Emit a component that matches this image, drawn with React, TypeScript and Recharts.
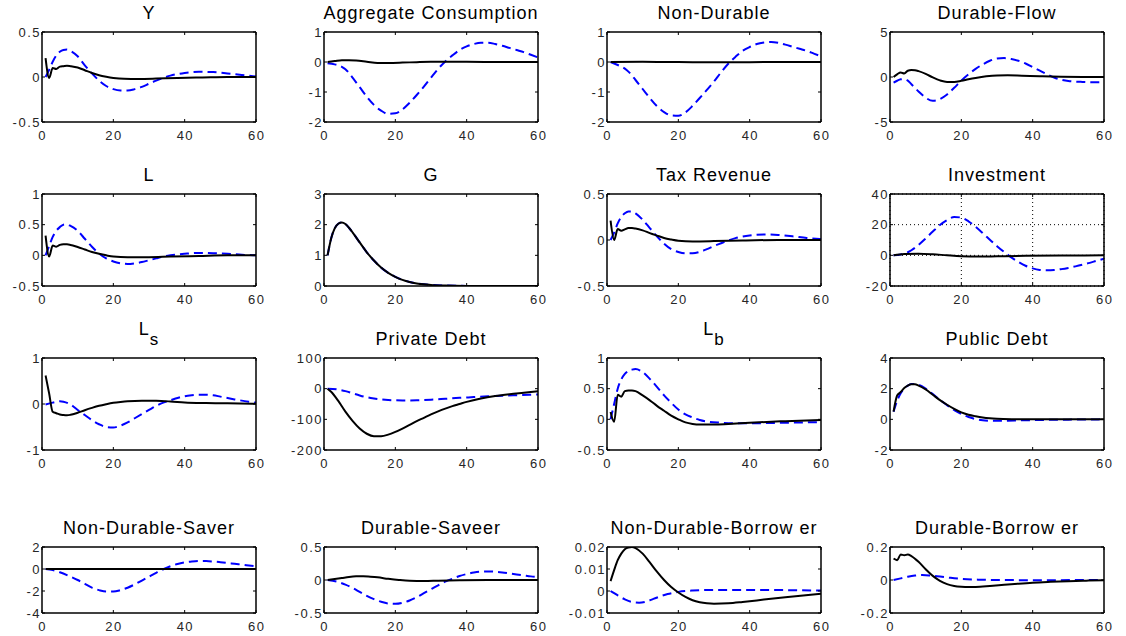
import React from "react";
import { LineChart, Line, XAxis, YAxis, CartesianGrid } from "recharts";

type Pt = [number, number];

const X_TICKS = [0, 20, 40, 60];

// Y
const Y_SOLID: Pt[] = [[1,0.21],[2,-0.01],[3,0.1],[4,0.09],[5,0.115],[6,0.12],[7,0.125],[8,0.12],[10,0.105],[12,0.075],[14,0.045],[16,0.02],[18,0.003],[20,-0.01],[23,-0.02],[27,-0.022],[32,-0.018],[38,-0.01],[45,-0.005],[52,0],[60,0]];
const Y_DASHED: Pt[] = [[1,0],[2,0.08],[3,0.17],[4,0.24],[5,0.28],[6,0.3],[7,0.305],[8,0.29],[10,0.23],[12,0.13],[14,0.04],[16,-0.04],[18,-0.1],[20,-0.135],[22,-0.15],[24,-0.15],[26,-0.135],[28,-0.11],[30,-0.075],[32,-0.04],[34,-0.01],[36,0.015],[40,0.045],[44,0.058],[48,0.055],[52,0.04],[56,0.022],[60,0.005]];

// Aggregate Consumption
const AC_SOLID: Pt[] = [[1,0],[3,0.03],[5,0.06],[7,0.06],[9,0.05],[12,0.01],[15,-0.03],[18,-0.03],[22,-0.02],[26,-0.005],[30,0.005],[40,0.005],[50,0],[60,0]];
const AC_DASHED: Pt[] = [[1,-0.04],[3,-0.08],[5,-0.16],[6,-0.24],[8,-0.52],[10,-0.84],[12,-1.16],[14,-1.43],[16,-1.62],[18,-1.73],[20,-1.71],[22,-1.58],[24,-1.36],[26,-1.1],[28,-0.82],[30,-0.52],[32,-0.23],[34,0.02],[36,0.22],[38,0.4],[40,0.52],[42,0.6],[44,0.64],[46,0.64],[48,0.6],[50,0.54],[52,0.47],[54,0.4],[56,0.33],[58,0.24],[60,0.15]];

// Non-Durable
const ND_SOLID: Pt[] = [[1,0],[10,0.005],[20,0],[30,-0.01],[40,-0.005],[50,0],[60,0]];
const ND_DASHED: Pt[] = [[1,0],[3,-0.1],[5,-0.22],[6,-0.32],[8,-0.6],[10,-0.9],[12,-1.2],[14,-1.47],[16,-1.67],[18,-1.78],[20,-1.79],[22,-1.68],[24,-1.46],[26,-1.2],[28,-0.93],[30,-0.65],[32,-0.34],[34,-0.06],[36,0.17],[38,0.37],[40,0.5],[42,0.6],[44,0.65],[46,0.67],[48,0.64],[50,0.58],[52,0.51],[54,0.44],[56,0.37],[58,0.28],[60,0.19]];

// Durable-Flow
const DF_SOLID: Pt[] = [[1,0],[2,0.3],[3,0.5],[4,0.4],[5,0.7],[6,0.78],[7,0.75],[8,0.65],[10,0.35],[12,-0.05],[14,-0.38],[16,-0.55],[18,-0.55],[20,-0.42],[22,-0.25],[24,-0.1],[27,0.08],[30,0.18],[33,0.2],[37,0.15],[42,0.08],[48,0.02],[54,0],[60,0]];
const DF_DASHED: Pt[] = [[1,-0.63],[2,-0.42],[3,-0.26],[4,-0.22],[5,-0.4],[6,-0.8],[8,-1.6],[10,-2.3],[12,-2.65],[14,-2.45],[16,-1.95],[18,-1.2],[20,-0.4],[22,0.3],[24,0.9],[26,1.4],[28,1.8],[30,2.05],[32,2.1],[34,2.0],[36,1.8],[38,1.5],[40,1.1],[42,0.7],[44,0.3],[46,-0.05],[48,-0.3],[50,-0.45],[54,-0.55],[58,-0.58],[60,-0.55]];

// L
const L_SOLID: Pt[] = [[1,0.32],[2,-0.02],[3,0.16],[4,0.14],[5,0.17],[6,0.18],[7,0.18],[8,0.17],[10,0.135],[12,0.095],[14,0.055],[16,0.025],[18,0.0],[20,-0.02],[24,-0.03],[30,-0.03],[36,-0.02],[44,-0.01],[52,0],[60,0]];
const L_DASHED: Pt[] = [[1,0],[2,0.15],[3,0.3],[4,0.4],[5,0.46],[6,0.5],[7,0.505],[8,0.48],[10,0.4],[12,0.27],[14,0.14],[16,0.03],[18,-0.05],[20,-0.1],[22,-0.13],[24,-0.14],[26,-0.13],[28,-0.11],[30,-0.08],[32,-0.05],[34,-0.02],[36,0.0],[40,0.025],[44,0.04],[48,0.035],[52,0.025],[56,0.01],[60,0]];

// G
const G_SOLID: Pt[] = [[1,1],[2,1.55],[3,1.88],[4,2.03],[5,2.07],[6,2.02],[7,1.9],[8,1.75],[10,1.42],[12,1.1],[14,0.83],[16,0.6],[18,0.43],[20,0.3],[22,0.2],[24,0.13],[26,0.085],[28,0.055],[30,0.035],[34,0.015],[40,0.004],[50,0],[60,0]];
const G_DASHED: Pt[] = [[1,1],[2,1.55],[3,1.88],[4,2.03],[5,2.07],[6,2.02],[7,1.9],[8,1.75],[10,1.42],[12,1.1],[14,0.83],[16,0.6],[18,0.43],[20,0.3],[22,0.2],[24,0.13],[26,0.085],[28,0.055],[30,0.035],[34,0.015],[40,0.004],[50,0],[60,0]];

// Tax Revenue
const TR_SOLID: Pt[] = [[1,0.21],[2,0],[3,0.12],[4,0.1],[5,0.115],[6,0.13],[7,0.13],[8,0.125],[10,0.105],[12,0.075],[14,0.048],[16,0.022],[18,0.005],[20,-0.008],[24,-0.015],[30,-0.012],[38,-0.005],[48,0],[60,0]];
const TR_DASHED: Pt[] = [[1,0],[2,0.08],[3,0.18],[4,0.25],[5,0.29],[6,0.31],[7,0.31],[8,0.29],[10,0.22],[12,0.13],[14,0.04],[16,-0.04],[18,-0.1],[20,-0.13],[22,-0.145],[24,-0.145],[26,-0.13],[28,-0.1],[30,-0.065],[32,-0.035],[34,-0.005],[36,0.02],[40,0.05],[44,0.06],[48,0.055],[52,0.04],[56,0.022],[60,0.01]];

// Investment
const INV_SOLID: Pt[] = [[1,0],[4,0.8],[8,1.1],[12,0.7],[16,0],[20,-0.6],[25,-0.8],[30,-0.6],[38,-0.3],[48,-0.1],[60,0]];
const INV_DASHED: Pt[] = [[1,0],[3,0.6],[5,2],[6,3.3],[8,6.8],[10,11],[12,15.5],[14,19.8],[16,23],[18,25],[20,24.6],[22,22.2],[24,18.6],[26,14.5],[28,10.2],[30,6],[32,2.2],[34,-1.3],[36,-4.3],[38,-6.8],[40,-8.5],[42,-9.5],[44,-9.8],[46,-9.6],[48,-9],[50,-8.2],[52,-7.2],[54,-6.1],[56,-4.9],[58,-3.5],[60,-2.2]];

// L_s
const LS_SOLID: Pt[] = [[1,0.62],[2,0.23],[3,-0.17],[4,-0.2],[5,-0.23],[6,-0.24],[7,-0.245],[8,-0.235],[10,-0.19],[12,-0.135],[14,-0.085],[16,-0.04],[18,-0.005],[20,0.025],[22,0.045],[24,0.06],[28,0.07],[32,0.068],[36,0.055],[40,0.035],[46,0.022],[52,0.015],[60,0.005]];
const LS_DASHED: Pt[] = [[1,-0.01],[3,0.03],[5,0.06],[6,0.05],[8,-0.01],[10,-0.13],[12,-0.24],[14,-0.35],[16,-0.44],[18,-0.5],[20,-0.51],[22,-0.47],[24,-0.4],[26,-0.31],[28,-0.22],[30,-0.13],[32,-0.04],[34,0.03],[36,0.08],[38,0.13],[40,0.17],[42,0.19],[44,0.2],[46,0.2],[48,0.19],[50,0.16],[54,0.1],[58,0.05],[60,0.03]];

// Private Debt
const PD_SOLID: Pt[] = [[1,0],[2,-10],[4,-40],[6,-75],[8,-105],[10,-130],[12,-147],[14,-155],[16,-155],[18,-150],[20,-141],[22,-130],[24,-118],[26,-106],[28,-95],[30,-84],[32,-74],[34,-65],[36,-57],[38,-50],[40,-43],[44,-32],[48,-24],[52,-18],[56,-13],[60,-8]];
const PD_DASHED: Pt[] = [[1,0],[4,-3],[6,-8],[8,-15],[10,-22],[12,-28],[14,-32],[16,-35],[18,-37],[20,-38],[22,-38.5],[26,-38],[30,-36],[34,-33],[38,-30],[42,-27.5],[46,-25],[50,-23],[55,-21],[60,-19]];

// L_b
const LB_SOLID: Pt[] = [[1,0.12],[2,-0.04],[3,0.4],[4,0.37],[5,0.46],[6,0.47],[7,0.47],[8,0.46],[10,0.39],[12,0.31],[14,0.22],[16,0.14],[18,0.06],[20,0.0],[22,-0.05],[24,-0.075],[26,-0.085],[30,-0.085],[34,-0.075],[40,-0.055],[50,-0.03],[60,-0.01]];
const LB_DASHED: Pt[] = [[1,0],[2,0.25],[3,0.5],[4,0.65],[5,0.74],[6,0.79],[7,0.81],[8,0.82],[10,0.77],[12,0.66],[14,0.53],[16,0.39],[18,0.27],[20,0.16],[22,0.08],[24,0.03],[26,-0.01],[28,-0.035],[32,-0.055],[36,-0.065],[40,-0.065],[50,-0.055],[60,-0.045]];

// Public Debt
const PUB_SOLID: Pt[] = [[1,0.5],[2,1.55],[3,1.78],[4,2.05],[5,2.2],[6,2.28],[7,2.28],[8,2.2],[10,1.95],[12,1.6],[14,1.25],[16,0.95],[18,0.68],[20,0.45],[22,0.3],[24,0.2],[26,0.12],[28,0.07],[30,0.04],[35,0.01],[40,0],[60,0]];
const PUB_DASHED: Pt[] = [[1,0.5],[2,1.2],[3,1.7],[4,2.0],[5,2.2],[6,2.3],[7,2.3],[8,2.25],[10,2.0],[12,1.65],[14,1.27],[16,0.92],[18,0.6],[20,0.35],[22,0.15],[24,0.02],[26,-0.06],[28,-0.09],[30,-0.1],[33,-0.09],[36,-0.07],[40,-0.05],[50,-0.02],[60,0]];

// Non-Durable-Saver
const NDS_SOLID: Pt[] = [[1,0],[20,0],[40,0],[60,0]];
const NDS_DASHED: Pt[] = [[1,0],[3,-0.1],[5,-0.3],[8,-0.7],[10,-1.0],[12,-1.35],[14,-1.7],[16,-1.92],[18,-2.05],[20,-2.05],[22,-1.92],[24,-1.7],[26,-1.4],[28,-1.05],[30,-0.7],[32,-0.35],[34,-0.02],[36,0.25],[38,0.46],[40,0.6],[42,0.68],[44,0.72],[46,0.72],[48,0.68],[50,0.62],[52,0.55],[54,0.47],[56,0.4],[58,0.32],[60,0.24]];

// Durable-Saveer
const DS_SOLID: Pt[] = [[1,0],[3,0.015],[5,0.03],[7,0.045],[9,0.055],[11,0.058],[13,0.05],[15,0.04],[18,0.018],[21,0],[24,-0.012],[28,-0.015],[32,-0.01],[38,-0.003],[46,0],[60,0]];
const DS_DASHED: Pt[] = [[1,0],[4,-0.03],[6,-0.07],[8,-0.12],[10,-0.18],[12,-0.24],[14,-0.29],[16,-0.33],[18,-0.355],[20,-0.36],[22,-0.345],[24,-0.31],[26,-0.26],[28,-0.2],[30,-0.14],[32,-0.08],[34,-0.025],[36,0.02],[38,0.06],[40,0.09],[42,0.115],[44,0.128],[46,0.13],[48,0.126],[50,0.115],[52,0.1],[54,0.085],[56,0.07],[58,0.055],[60,0.045]];

// Non-Durable-Borrower
const NDB_SOLID: Pt[] = [[1,0.0045],[2,0.0095],[3,0.014],[4,0.017],[5,0.019],[6,0.0198],[7,0.02],[8,0.0195],[10,0.017],[12,0.013],[14,0.0088],[16,0.005],[18,0.0018],[20,-0.0007],[22,-0.0027],[24,-0.0042],[26,-0.0051],[28,-0.0056],[30,-0.0058],[34,-0.0056],[38,-0.005],[42,-0.0043],[46,-0.0035],[50,-0.0028],[55,-0.002],[60,-0.0013]];
const NDB_DASHED: Pt[] = [[1,0],[2,-0.001],[3,-0.002],[5,-0.0038],[7,-0.005],[9,-0.0053],[11,-0.0048],[13,-0.0036],[15,-0.0024],[17,-0.0014],[20,-0.0004],[24,0.0002],[30,0.0005],[40,0.0005],[50,0.0004],[60,0.0002]];

// Durable-Borrower
const DB_SOLID: Pt[] = [[1,0.13],[2,0.12],[3,0.155],[4,0.15],[5,0.155],[6,0.145],[8,0.11],[10,0.065],[12,0.025],[14,-0.005],[16,-0.025],[18,-0.036],[20,-0.041],[22,-0.043],[24,-0.042],[28,-0.036],[32,-0.029],[36,-0.022],[40,-0.016],[45,-0.011],[50,-0.007],[55,-0.004],[60,-0.002]];
const DB_DASHED: Pt[] = [[1,0],[3,0.01],[5,0.02],[7,0.027],[9,0.03],[11,0.028],[14,0.021],[17,0.013],[20,0.007],[25,0.002],[30,0],[40,-0.001],[60,0]];

interface PanelDef {
  title: string;
  sub?: string;
  domain: [number, number];
  ticks: number[];
  solid: Pt[];
  dashed: Pt[];
  grid?: boolean;
}

const PANELS: PanelDef[] = [
  { title: "Y", domain: [-0.5, 0.5], ticks: [-0.5, 0, 0.5], solid: Y_SOLID, dashed: Y_DASHED },
  { title: "Aggregate Consumption", domain: [-2, 1], ticks: [-2, -1, 0, 1], solid: AC_SOLID, dashed: AC_DASHED },
  { title: "Non-Durable", domain: [-2, 1], ticks: [-2, -1, 0, 1], solid: ND_SOLID, dashed: ND_DASHED },
  { title: "Durable-Flow", domain: [-5, 5], ticks: [-5, 0, 5], solid: DF_SOLID, dashed: DF_DASHED },
  { title: "L", domain: [-0.5, 1], ticks: [-0.5, 0, 0.5, 1], solid: L_SOLID, dashed: L_DASHED },
  { title: "G", domain: [0, 3], ticks: [0, 1, 2, 3], solid: G_SOLID, dashed: G_DASHED },
  { title: "Tax Revenue", domain: [-0.5, 0.5], ticks: [-0.5, 0, 0.5], solid: TR_SOLID, dashed: TR_DASHED },
  { title: "Investment", domain: [-20, 40], ticks: [-20, 0, 20, 40], solid: INV_SOLID, dashed: INV_DASHED, grid: true },
  { title: "L", sub: "s", domain: [-1, 1], ticks: [-1, 0, 1], solid: LS_SOLID, dashed: LS_DASHED },
  { title: "Private Debt", domain: [-200, 100], ticks: [-200, -100, 0, 100], solid: PD_SOLID, dashed: PD_DASHED },
  { title: "L", sub: "b", domain: [-0.5, 1], ticks: [-0.5, 0, 0.5, 1], solid: LB_SOLID, dashed: LB_DASHED },
  { title: "Public Debt", domain: [-2, 4], ticks: [-2, 0, 2, 4], solid: PUB_SOLID, dashed: PUB_DASHED },
  { title: "Non-Durable-Saver", domain: [-4, 2], ticks: [-4, -2, 0, 2], solid: NDS_SOLID, dashed: NDS_DASHED },
  { title: "Durable-Saveer", domain: [-0.5, 0.5], ticks: [-0.5, 0, 0.5], solid: DS_SOLID, dashed: DS_DASHED },
  { title: "Non-Durable-Borrow er", domain: [-0.01, 0.02], ticks: [-0.01, 0, 0.01, 0.02], solid: NDB_SOLID, dashed: NDB_DASHED },
  { title: "Durable-Borrow er", domain: [-0.2, 0.2], ticks: [-0.2, 0, 0.2], solid: DB_SOLID, dashed: DB_DASHED },
];

const COL_LEFT = [42, 324, 607, 890];
const PLOT_W = 214;
const ROW_TOP = [32, 194, 358, 547];
const ROW_BOTTOM = [122, 286, 450, 613];

const FONT = '"Liberation Sans", Arial, Helvetica, sans-serif';
const TICK_LEN = 3;
const ML = 40;
const MT = 10;
const MR = 14;
const MB = 26;
const FRAME = { stroke: "#000", strokeWidth: 1.5 };

const toRows = (pts: Pt[]) => pts.map(([x, y]) => ({ x, y }));

function BottomTick(props: any) {
  const { x, y, payload } = props;
  return (
    <g>
      <line x1={x} y1={y} x2={x} y2={y - TICK_LEN} stroke="#000" strokeWidth={1} />
      <text x={x + 0.7} y={y + 18} textAnchor="middle" fontSize={13} letterSpacing={1.5} fontFamily={FONT} fill="#262626">
        {payload.value}
      </text>
    </g>
  );
}

function TopTick(props: any) {
  const { x, y } = props;
  return <line x1={x} y1={y} x2={x} y2={y + TICK_LEN} stroke="#000" strokeWidth={1} />;
}

function LeftTick(props: any) {
  const { x, y, payload } = props;
  return (
    <g>
      <line x1={x} y1={y} x2={x + TICK_LEN} y2={y} stroke="#000" strokeWidth={1} />
      <text x={x - 1} y={y + 4.5} textAnchor="end" fontSize={13} letterSpacing={1.5} fontFamily={FONT} fill="#262626">
        {payload.value}
      </text>
    </g>
  );
}

function RightTick(props: any) {
  const { x, y } = props;
  return <line x1={x - TICK_LEN} y1={y} x2={x} y2={y} stroke="#000" strokeWidth={1} />;
}

function Panel({ def, row, col }: { def: PanelDef; row: number; col: number }) {
  const left = COL_LEFT[col];
  const top = ROW_TOP[row];
  const h = ROW_BOTTOM[row] - top;
  return (
    <div style={{ position: "absolute", left: left - ML, top: top - MT - 1 }}>
      <LineChart
        width={ML + PLOT_W + 1 + MR}
        height={MT + 1 + h + MB}
        margin={{ top: MT, right: MR, bottom: 0, left: 0 }}
      >
        {def.grid && (
          <CartesianGrid xAxisId="b" yAxisId="l" stroke="#000" strokeDasharray="1 3" strokeWidth={1} />
        )}
        <XAxis
          xAxisId="b"
          dataKey="x"
          type="number"
          domain={[0, 60]}
          ticks={X_TICKS}
          interval={0}
          height={MB}
          tickSize={0}
          tickMargin={0}
          tickLine={false}
          axisLine={FRAME}
          tick={<BottomTick />}
          allowDataOverflow
        />
        <XAxis
          xAxisId="t"
          orientation="top"
          dataKey="x"
          type="number"
          domain={[0, 60]}
          ticks={X_TICKS}
          interval={0}
          height={1}
          tickSize={0}
          tickMargin={0}
          tickLine={false}
          axisLine={FRAME}
          tick={<TopTick />}
          allowDataOverflow
        />
        <YAxis
          yAxisId="l"
          type="number"
          domain={def.domain}
          ticks={def.ticks}
          interval={0}
          width={ML}
          tickSize={0}
          tickMargin={0}
          tickLine={false}
          axisLine={FRAME}
          tick={<LeftTick />}
          allowDataOverflow
        />
        <YAxis
          yAxisId="r"
          orientation="right"
          type="number"
          domain={def.domain}
          ticks={def.ticks}
          interval={0}
          width={1}
          tickSize={0}
          tickMargin={0}
          tickLine={false}
          axisLine={FRAME}
          tick={<RightTick />}
          allowDataOverflow
        />
        <Line
          xAxisId="b"
          yAxisId="l"
          data={toRows(def.dashed)}
          dataKey="y"
          type="monotone"
          stroke="#0000ff"
          strokeWidth={2}
          strokeDasharray="9 5"
          dot={false}
          activeDot={false}
          isAnimationActive={false}
        />
        <Line
          xAxisId="b"
          yAxisId="l"
          data={toRows(def.solid)}
          dataKey="y"
          type="monotone"
          stroke="#000"
          strokeWidth={2}
          dot={false}
          activeDot={false}
          isAnimationActive={false}
        />
      </LineChart>
    </div>
  );
}

function Titles() {
  return (
    <svg
      width={1126}
      height={636}
      style={{ position: "absolute", left: 0, top: 0, pointerEvents: "none" }}
    >
      {PANELS.map((p, i) => {
        const row = Math.floor(i / 4);
        const col = i % 4;
        const cx = COL_LEFT[col] + PLOT_W / 2;
        const top = ROW_TOP[row];
        return p.sub ? (
          <text key={i} x={cx} y={top - 23} textAnchor="middle" fontSize={18} letterSpacing={1} fontFamily={FONT} fill="#000">
            {p.title}
            <tspan dy={10} fontSize={17}>{p.sub}</tspan>
          </text>
        ) : (
          <text key={i} x={cx} y={top - 13} textAnchor="middle" fontSize={18} letterSpacing={1} fontFamily={FONT} fill="#000">
            {p.title}
          </text>
        );
      })}
    </svg>
  );
}

export default function App() {
  return (
    <div style={{ position: "absolute", left: 0, top: 0, width: 1126, height: 636, background: "#fff" }}>
      {PANELS.map((p, i) => (
        <Panel key={i} def={p} row={Math.floor(i / 4)} col={i % 4} />
      ))}
      <Titles />
    </div>
  );
}
